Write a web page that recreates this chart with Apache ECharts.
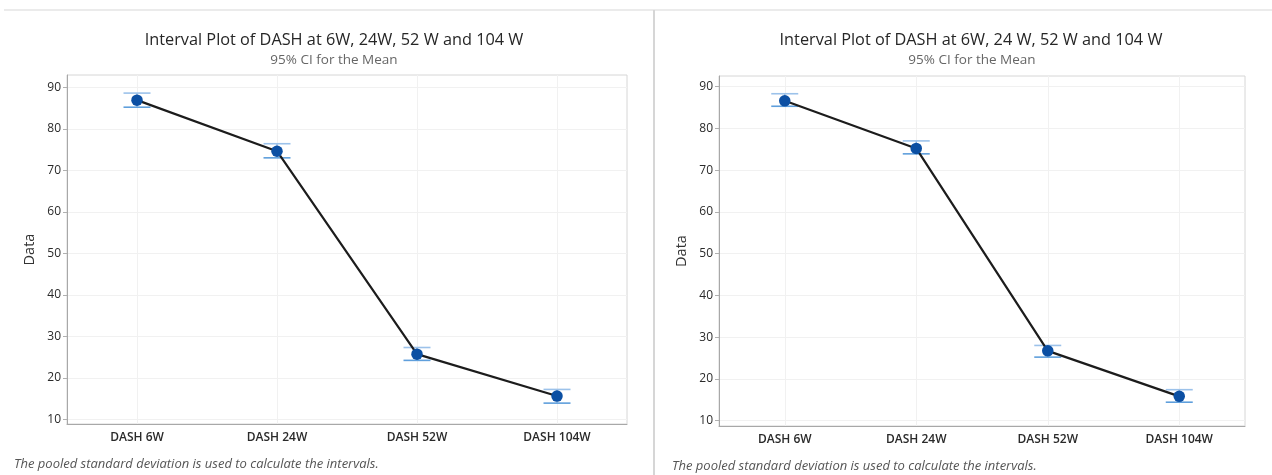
<!DOCTYPE html>
<html>
<head>
<meta charset="utf-8">
<script src="https://cdn.jsdelivr.net/npm/echarts@6/dist/echarts.min.js"></script>
<style>
html,body{margin:0;padding:0;background:#fff;}
#chart{width:1272px;height:475px;}
</style>
</head>
<body>
<div id="chart"></div>
<script>
// ---- data ----
const categories = ['DASH 6W', 'DASH 24W', 'DASH 52W', 'DASH 104W'];
const leftMean  = [86.9, 74.6, 25.7, 15.6];
const leftLower = [85.2, 73.0, 24.2, 13.9];
const leftUpper = [88.6, 76.4, 27.3, 17.2];
const rightMean  = [86.6, 75.2, 26.7, 15.8];
const rightLower = [85.3, 73.9, 25.2, 14.4];
const rightUpper = [88.3, 77.0, 28.0, 17.4];
const yTicks = [10, 20, 30, 40, 50, 60, 70, 80, 90];
const titleText = ['Interval Plot of DASH at 6W, 24W, 52 W and 104 W', 'Interval Plot of DASH at 6W, 24 W, 52 W and 104 W'];
const subTitleText = '95% CI for the Mean';
const footerText = 'The pooled standard deviation is used to calculate the intervals.';
const yName = 'Data';

const FONT = '"Open Sans", "Noto Sans", sans-serif';
const chart = echarts.init(document.getElementById('chart'), null, {renderer: 'canvas'});

function ciData(lo, hi) { return categories.map((c, i) => [i, lo[i], hi[i]]); }

function errorSeries(idx, lo, hi) {
  return {
    type: 'custom', xAxisIndex: idx, yAxisIndex: idx, z: 2,
    data: ciData(lo, hi),
    renderItem: function (params, api) {
      const x = api.value(0);
      const pLo = api.coord([x, api.value(1)]);
      const pHi = api.coord([x, api.value(2)]);
      const hw = 13.5;
      return {
        type: 'group',
        children: [
          {type: 'line', shape: {x1: pLo[0], y1: pLo[1], x2: pHi[0], y2: pHi[1]}, style: {stroke: '#8fb9e6', lineWidth: 1.5}},
          {type: 'line', shape: {x1: pHi[0] - hw, y1: pHi[1], x2: pHi[0] + hw, y2: pHi[1]}, style: {stroke: '#9cc2ea', lineWidth: 1.6}},
          {type: 'line', shape: {x1: pLo[0] - hw, y1: pLo[1], x2: pLo[0] + hw, y2: pLo[1]}, style: {stroke: '#5f9fdc', lineWidth: 1.6}}
        ]
      };
    }
  };
}

function gridSeries(idx) {
  return {
    type: 'line', xAxisIndex: idx, yAxisIndex: idx, z: 0, data: [],
    markLine: {
      silent: true, symbol: 'none', label: {show: false}, animation: false, z: 0,
      lineStyle: {color: '#f1f1f1', width: 1, type: 'solid'},
      data: yTicks.map(v => ({yAxis: v})).concat(categories.map(c => ({xAxis: c})))
    }
  };
}

function meanSeries(idx, vals) {
  return {
    type: 'line', xAxisIndex: idx, yAxisIndex: idx, z: 3,
    data: vals,
    symbol: 'circle', symbolSize: 11.5,
    itemStyle: {color: '#0b4fa3'},
    lineStyle: {color: '#1c1c1c', width: 2.2},
    animation: false
  };
}

function xAxis(idx) {
  return {
    type: 'category', gridIndex: idx, data: categories, boundaryGap: true,
    axisLine: {lineStyle: {color: '#a8a8a8'}},
    axisTick: {alignWithLabel: true, length: 4, lineStyle: {color: '#b0b0b0'}},
    axisLabel: {color: '#2a2a2a', fontSize: 12, fontWeight: 600, fontFamily: FONT, margin: 8},
    splitLine: {show: false}
  };
}
function yAxis(idx, min, max) {
  return {
    type: 'value', gridIndex: idx, min: min, max: max,
    name: yName, nameLocation: 'middle', nameGap: 30, nameRotate: 90,
    nameTextStyle: {color: '#333', fontSize: 14.5, fontFamily: FONT},
    axisLine: {show: true, lineStyle: {color: '#a8a8a8'}},
    axisTick: {show: true, length: 4, customValues: yTicks, lineStyle: {color: '#b0b0b0'}},
    axisLabel: {color: '#2a2a2a', fontSize: 12, fontFamily: FONT, margin: 6, customValues: yTicks},
    splitLine: {show: false}
  };
}

const option = {
  backgroundColor: '#fff',
  animation: false,
  title: [
    {text: titleText[0], left: 329, top: 27, textAlign: 'center', textStyle: {fontFamily: FONT, fontSize: 16.3, fontWeight: 'normal', color: '#262626'}},
    {text: subTitleText, left: 329, top: 48, textAlign: 'center', textStyle: {fontFamily: FONT, fontSize: 13.5, fontWeight: 'normal', color: '#666'}},
    {text: titleText[1], left: 966, top: 27, textAlign: 'center', textStyle: {fontFamily: FONT, fontSize: 16.3, fontWeight: 'normal', color: '#262626'}},
    {text: subTitleText, left: 967, top: 48, textAlign: 'center', textStyle: {fontFamily: FONT, fontSize: 13.5, fontWeight: 'normal', color: '#666'}}
  ],
  grid: [
    {left: 67, top: 75, width: 560, height: 349, show: true, borderColor: '#d6d6d6', borderWidth: 1},
    {left: 719, top: 76, width: 526, height: 350, show: true, borderColor: '#d6d6d6', borderWidth: 1}
  ],
  xAxis: [xAxis(0), xAxis(1)],
  yAxis: [yAxis(0, 8.87, 92.96), yAxis(1, 8.7, 92.55)],
  series: [
    gridSeries(0),
    errorSeries(0, leftLower, leftUpper),
    meanSeries(0, leftMean),
    gridSeries(1),
    errorSeries(1, rightLower, rightUpper),
    meanSeries(1, rightMean)
  ],
  graphic: [
    {type: 'line', shape: {x1: 4, y1: 10, x2: 1272, y2: 10}, style: {stroke: '#e4e4e4', lineWidth: 1.5}, silent: true},
    {type: 'line', shape: {x1: 654, y1: 10, x2: 654, y2: 475}, style: {stroke: '#d6d6d6', lineWidth: 2}, silent: true},
    {type: 'text', left: 14, top: 458, style: {text: footerText, fontFamily: FONT, fontSize: 13, fontStyle: 'italic', fill: '#555'}},
    {type: 'text', left: 672, top: 460, style: {text: footerText, fontFamily: FONT, fontSize: 13, fontStyle: 'italic', fill: '#555'}}
  ]
};
chart.setOption(option);
</script>
</body>
</html>
